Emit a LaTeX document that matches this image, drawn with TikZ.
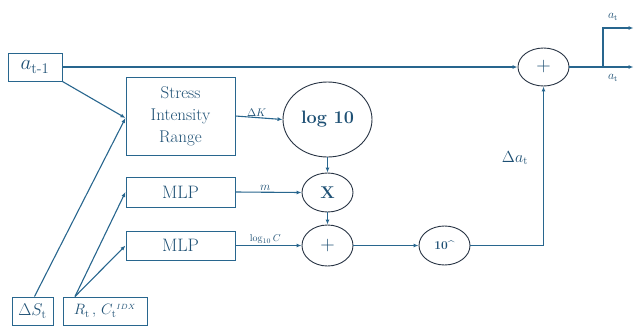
\documentclass[tikz,border=0pt]{standalone}
\usepackage{fix-cm}
\usepackage{amsmath}
\usepackage{fontspec}
\usetikzlibrary{arrows.meta,shapes.geometric,calc}
\definecolor{lc}{RGB}{40,102,142}
\definecolor{tc}{RGB}{30,80,116}
\definecolor{ec}{RGB}{40,52,68}
\begin{document}
\begin{tikzpicture}[x=1pt,y=-1pt,
  box/.style={draw=lc,line width=1pt,text=tc,inner sep=0pt,align=center,font=\fontsize{17}{22}\selectfont},
  ell/.style={ellipse,draw=ec,line width=0.9pt,text=tc,inner sep=0pt},
  arr/.style={draw=lc,line width=1.1pt,-{Latex[length=5pt,width=4pt]}},
  ln/.style={draw=lc,line width=1.1pt},
  lab/.style={text=tc,inner sep=1pt}]
\useasboundingbox (0,0) rectangle (634,325);
\node[box,minimum width=54pt,minimum height=28pt,font=\fontsize{21}{22}\selectfont] (aprev) at (35,67) {$a_{\textrm{t-1}}$};
\node[box,minimum width=109pt,minimum height=78pt] (stress) at (180.5,116) {Stress\\Intensity\\Range};
\node[box,minimum width=109pt,minimum height=30pt,font=\fontsize{18}{20}\selectfont] (mlpa) at (180.5,192) {MLP};
\node[box,minimum width=109pt,minimum height=29pt,font=\fontsize{18}{20}\selectfont] (mlpb) at (180.5,245.5) {MLP};
\node[box,minimum width=41pt,minimum height=28pt,font=\fontsize{17}{20}\selectfont] (ds) at (32.5,311) {$\Delta S_{\textrm{t}}$};
\node[box,minimum width=84pt,minimum height=28pt,font=\fontsize{15}{20}\selectfont] (rc) at (105,311) {$R_{\textrm{t}}\,,\,C_{\textrm{t}}{}^{\scriptscriptstyle IDX}$};
\node[ell,minimum width=89pt,minimum height=75pt,font=\fontsize{18}{20}\selectfont\bfseries] (log) at (327.5,119.5) {log 10};
\node[ell,minimum width=51pt,minimum height=39pt,font=\fontsize{17}{20}\selectfont\bfseries] (mul) at (327.5,192.5) {X};
\node[ell,minimum width=51pt,minimum height=41pt,font=\fontsize{20}{22}\selectfont] (plusb) at (327.5,245.5) {+};
\node[ell,minimum width=51pt,minimum height=39pt,font=\fontsize{12}{14}\selectfont\bfseries] (pow) at (444.5,245.5) {10\textasciicircum};
\node[ell,minimum width=51pt,minimum height=38pt,font=\fontsize{20}{22}\selectfont] (plusa) at (543.5,67) {+};
\coordinate (j) at (603,67);
\coordinate (outa) at (633.5,28);
\coordinate (outb) at (633.5,67);
\coordinate (dstop) at ($(ds.north)+(2,0)$);
\coordinate (rctop) at ($(rc.north)+(-30,0)$);
\coordinate (sin) at ($(stress.west)+(0,2)$);
\draw[arr] (aprev.east) -- (plusa.west);
\draw[arr] (aprev.south east) -- (sin);
\draw[arr] (dstop) -- (sin);
\draw[arr] (rctop) -- (mlpa.west);
\draw[arr] (rctop) -- (mlpb.west);
\draw[arr] (stress.east) -- node[lab,above,pos=0.45,font=\fontsize{11}{12}\selectfont] {$\Delta K$} (log.west);
\draw[arr] (log.south) -- (mul.north);
\draw[arr] (mlpa.east) -- node[lab,above,pos=0.45,font=\fontsize{12}{12}\selectfont] {$m$} (mul.west);
\draw[arr] (mul.south) -- (plusb.north);
\draw[arr] (mlpb.east) -- node[lab,above,pos=0.45,font=\fontsize{10}{12}\selectfont] {$\log_{10} C$} (plusb.west);
\draw[arr] (plusb.east) -- (pow.west);
\draw[arr] (pow.east) -| (plusa.south);
\node[lab,font=\fontsize{16}{18}\selectfont] (da) at (515,158) {$\Delta a_{\textrm{t}}$};
\draw[ln] (plusa.east) -- (j);
\draw[arr] (j) -- (outb);
\draw[arr] (j) |- (outa);
\node[lab,font=\fontsize{12}{12}\selectfont] (la) at (613,17) {$a_{\textrm{t}}$};
\node[lab,font=\fontsize{12}{12}\selectfont] (lb) at (613,78) {$a_{\textrm{t}}$};
\end{tikzpicture}
\end{document}
